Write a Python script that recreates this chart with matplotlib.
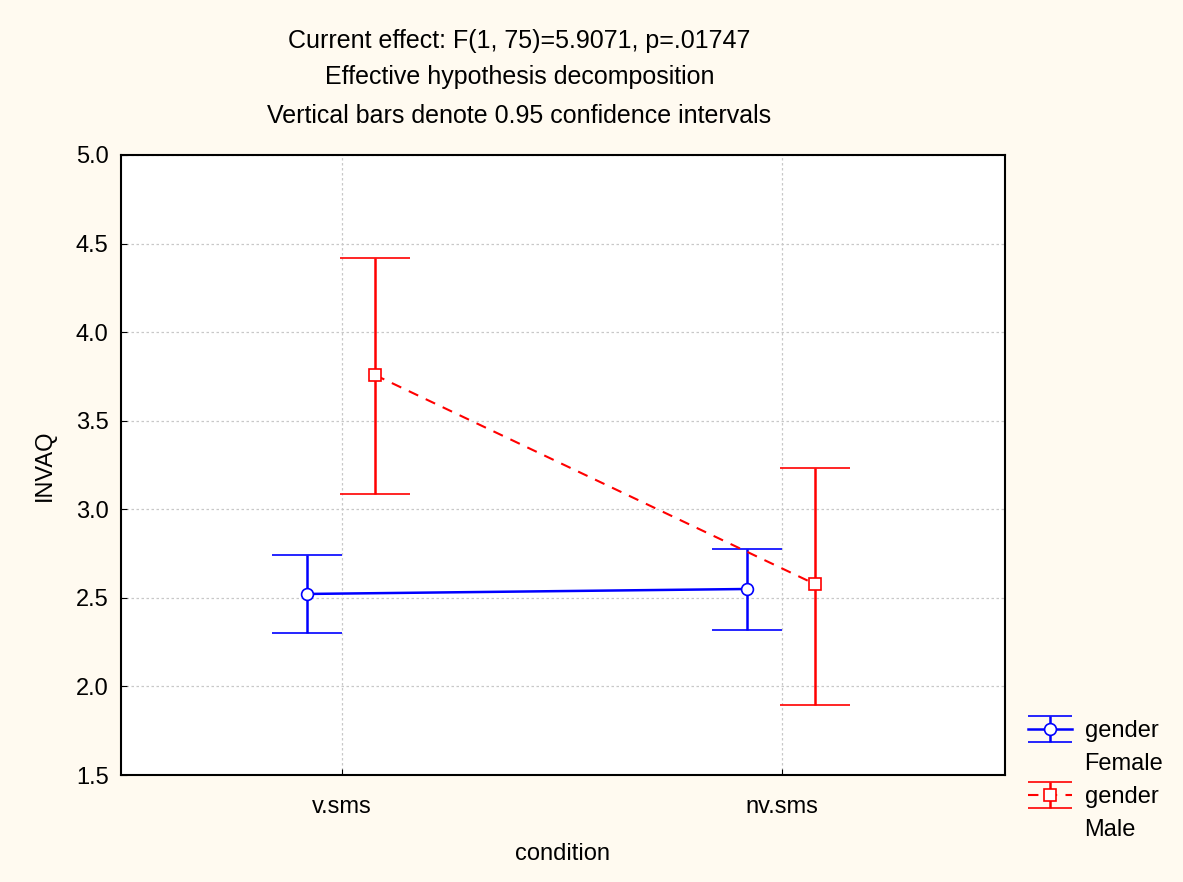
import numpy as np
import matplotlib.pyplot as plt
from matplotlib.lines import Line2D
from matplotlib.legend_handler import HandlerErrorbar

plt.rcParams['font.family'] = ['Liberation Sans', 'DejaVu Sans']

# Data
conditions = ['v.sms', 'nv.sms']
female_mean = [2.522, 2.550]
female_low = [2.302, 2.319]
female_high = [2.742, 2.776]
male_mean = [3.758, 2.578]
male_low = [3.086, 1.895]
male_high = [4.419, 3.233]

bg = '#fffaf0'
blue = '#0000ff'
red = '#ff0000'
fs = 17

fig = plt.figure(figsize=(11.83, 8.82), dpi=100, facecolor=bg)
ax = fig.add_axes([0.1023, 0.1213, 0.7472, 0.7030])
ax.set_facecolor('white')

x = np.arange(len(conditions))
female_style = dict(color=blue, lw=1.8, capthick=1.8, elinewidth=1.8,
                    marker='o', ms=8.5, mfc='white', mec=blue, mew=1.2)
male_style = dict(color=red, lw=1.5, ls=(0, (5, 4)), capthick=1.8, elinewidth=1.8,
                  marker='s', ms=8.5, mfc='white', mec=red, mew=1.2)

# Female
fm = np.array(female_mean)
ax.errorbar(x - 0.08, fm, yerr=[fm - np.array(female_low), np.array(female_high) - fm],
            capsize=25, zorder=3, **female_style)

# Male
mm = np.array(male_mean)
ax.errorbar(x + 0.075, mm, yerr=[mm - np.array(male_low), np.array(male_high) - mm],
            capsize=25, zorder=3, **male_style)

ax.set_xlim(-0.502, 1.507)
ax.set_ylim(1.5, 5.0)
ax.set_xticks(x)
ax.set_xticklabels(conditions)
yt = np.arange(1.5, 5.01, 0.5)
ax.set_yticks(yt)
ax.set_yticklabels(['%.1f' % v for v in yt])
ax.tick_params(direction='in', length=4, labelsize=fs, pad=9)
ax.tick_params(axis='x', pad=15)
ax.grid(True, color='#c8c8c8', ls=(0, (2, 2)), lw=0.9)
ax.set_axisbelow(True)
for s in ax.spines.values():
    s.set_linewidth(1.5)

ax.set_xlabel('condition', fontsize=fs, labelpad=18)
ax.set_ylabel('INVAQ', fontsize=fs, labelpad=14)

fig.text(0.439, 0.953, 'Current effect: F(1, 75)=5.9071, p=.01747', ha='center', va='center', fontsize=18)
fig.text(0.439, 0.913, 'Effective hypothesis decomposition', ha='center', va='center', fontsize=18)
fig.text(0.439, 0.869, 'Vertical bars denote 0.95 confidence intervals', ha='center', va='center', fontsize=18)

# legend handles (no data, only for the key)
hf = ax.errorbar([np.nan], [np.nan], yerr=[[0], [0]], capsize=16, **female_style)
hm = ax.errorbar([np.nan], [np.nan], yerr=[[0], [0]], capsize=16, **male_style)
blank = Line2D([], [], ls='none')
ax.legend([hf, blank, hm, blank], ['gender', 'Female', 'gender', 'Male'],
          loc='upper left', bbox_to_anchor=(1.026, 0.088), frameon=False, fontsize=fs,
          handlelength=1.85, handletextpad=0.55, labelspacing=0.46, borderaxespad=0,
          borderpad=0,
          handler_map={type(hf): HandlerErrorbar(xerr_size=0.5, yerr_size=0.55)})

fig.savefig('out.png', dpi=100, facecolor=bg)
